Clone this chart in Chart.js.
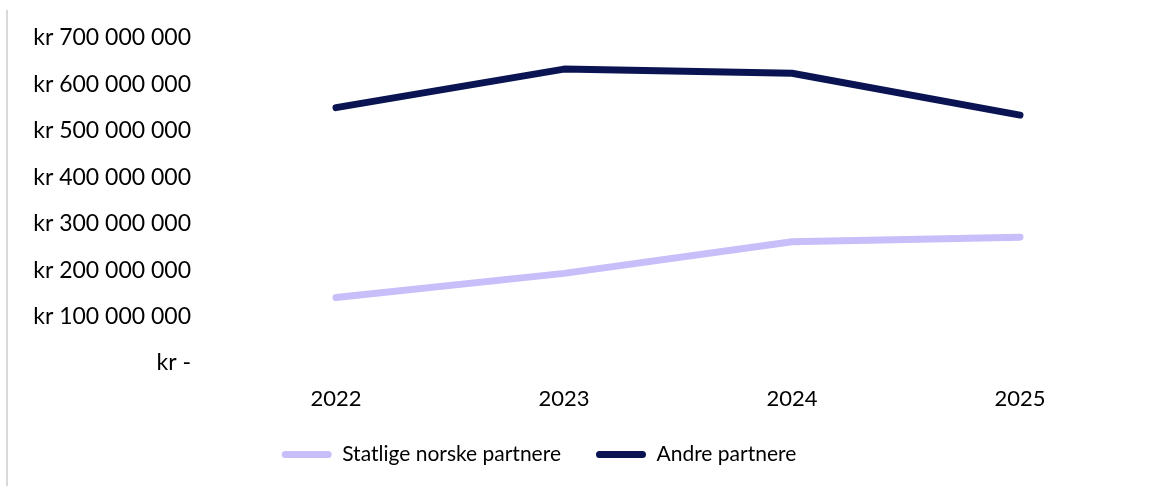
<!DOCTYPE html>
<html>
<head>
<meta charset="utf-8">
<script src="https://cdn.jsdelivr.net/npm/chart.js@4"></script>
<style>
  html, body { margin: 0; padding: 0; background: #fff; }
  #wrap { position: absolute; left: 0; top: 0; width: 1152px; height: 486px; }
  #edge { position: absolute; left: 6px; top: 10px; width: 2px; height: 476px; background: #d9d9d9; }
</style>
</head>
<body>
<div id="wrap"><canvas id="lineChart" width="1152" height="486"></canvas></div>
<div id="edge"></div>
<script>
var years = ['2022', '2023', '2024', '2025'];
var statlige = [141000000, 193000000, 261000000, 271000000];
var andre = [550000000, 633000000, 624000000, 534000000];
var seriesNames = ['Statlige norske partnere', 'Andre partnere'];
var seriesColors = ['#c8befa', '#0a1452'];

function kroner(v) {
    if (v === 0) return 'kr -';
    return 'kr ' + String(v).replace(/\B(?=(\d{3})+(?!\d))/g, ' ');
}

// legend keeps wide gaps between items but a shorter height, and sits a bit left
var legendTweak = {
    id: 'legendTweak',
    beforeUpdate: function (chart) {
        var lg = chart.legend;
        if (!lg || lg._patched) return;
        var fit = lg.fit;
        lg.fit = function () {
            fit.call(this);
            this.height = 77;
        };
        lg._patched = true;
    },
    afterLayout: function (chart) {
        chart.legend.left -= 28;
        chart.legend.right -= 28;
    }
};

var ctx = document.getElementById('lineChart').getContext('2d');
new Chart(ctx, {
    type: 'line',
    data: {
        labels: years,
        datasets: [{
            label: seriesNames[0],
            data: statlige,
            borderColor: seriesColors[0],
            backgroundColor: seriesColors[0],
            borderWidth: 7,
            borderCapStyle: 'round',
            borderJoinStyle: 'round',
            pointRadius: 0,
            tension: 0
        },
        {
            label: seriesNames[1],
            data: andre,
            borderColor: seriesColors[1],
            backgroundColor: seriesColors[1],
            borderWidth: 7,
            borderCapStyle: 'round',
            borderJoinStyle: 'round',
            pointRadius: 0,
            tension: 0
        }]
    },
    plugins: [legendTweak],
    options: {
        responsive: false,
        animation: false,
        layout: { padding: { top: 38, right: 18, bottom: 0, left: 0 } },
        plugins: {
            tooltip: { enabled: false },
            legend: {
                position: 'bottom',
                labels: {
                    color: '#000',
                    font: { family: 'Lato', size: 21 },
                    boxWidth: 50,
                    boxHeight: 7,
                    padding: 35,
                    generateLabels: function (chart) {
                        return chart.data.datasets.map(function (ds, i) {
                            return {
                                text: ds.label,
                                fillStyle: ds.borderColor,
                                strokeStyle: ds.borderColor,
                                lineWidth: 0,
                                borderRadius: 3.5,
                                fontColor: '#000',
                                datasetIndex: i
                            };
                        });
                    }
                }
            }
        },
        scales: {
            x: {
                offset: true,
                grid: { display: false, drawTicks: false },
                border: { display: false },
                afterFit: function (scale) { scale.height = 46; },
                ticks: { color: '#000', padding: 23, font: { family: 'Lato', size: 22 } }
            },
            y: {
                min: 0,
                max: 700000000,
                grid: { display: false, drawTicks: false },
                border: { display: false },
                afterFit: function (scale) {
                    scale.width = 222;
                    scale.paddingTop = 0;
                    scale.paddingBottom = 0;
                },
                ticks: {
                    stepSize: 100000000,
                    color: '#000',
                    padding: 31,
                    font: { family: 'Lato', size: 23 },
                    callback: function (v) { return kroner(v); }
                }
            }
        }
    }
});
</script>
</body>
</html>
